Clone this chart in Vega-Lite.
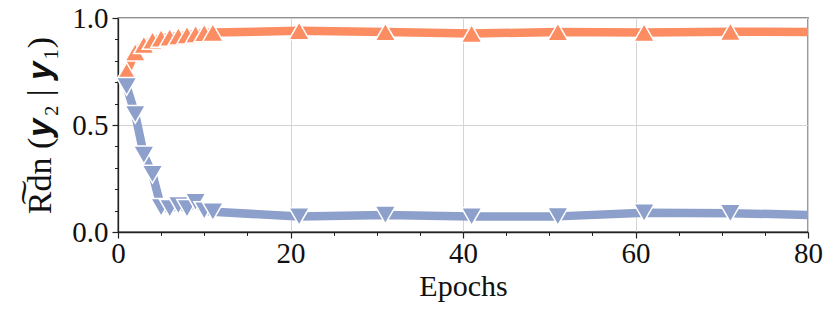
{
  "$schema": "https://vega.github.io/schema/vega-lite/v6.json",
  "autosize": "none",
  "width": 690,
  "height": 214,
  "padding": {"left": 118, "top": 18, "right": 22, "bottom": 77},
  "background": "white",
  "config": {
    "view": {"stroke": "#222", "strokeWidth": 1.3},
    "axis": {"labelFont": "Liberation Serif", "titleFont": "Liberation Serif", "labelColor": "#111", "titleColor": "#111", "titleFontWeight": "normal", "domainColor": "#222", "tickColor": "#222", "labelFlush": false}
  },
  "data": {"values": [
    {"epoch": 1, "value": 0.75, "series": "high"},
    {"epoch": 2, "value": 0.84, "series": "high"},
    {"epoch": 3, "value": 0.875, "series": "high"},
    {"epoch": 4, "value": 0.895, "series": "high"},
    {"epoch": 5, "value": 0.905, "series": "high"},
    {"epoch": 6, "value": 0.91, "series": "high"},
    {"epoch": 7, "value": 0.915, "series": "high"},
    {"epoch": 8, "value": 0.92, "series": "high"},
    {"epoch": 9, "value": 0.925, "series": "high"},
    {"epoch": 10, "value": 0.93, "series": "high"},
    {"epoch": 11, "value": 0.932, "series": "high"},
    {"epoch": 21, "value": 0.94, "series": "high"},
    {"epoch": 31, "value": 0.935, "series": "high"},
    {"epoch": 41, "value": 0.927, "series": "high"},
    {"epoch": 51, "value": 0.935, "series": "high"},
    {"epoch": 61, "value": 0.932, "series": "high"},
    {"epoch": 71, "value": 0.936, "series": "high"},
    {"epoch": 80, "value": 0.935, "series": "high"},
    {"epoch": 1, "value": 0.68, "series": "low"},
    {"epoch": 2, "value": 0.55, "series": "low"},
    {"epoch": 3, "value": 0.36, "series": "low"},
    {"epoch": 4, "value": 0.27, "series": "low"},
    {"epoch": 5, "value": 0.115, "series": "low"},
    {"epoch": 6, "value": 0.11, "series": "low"},
    {"epoch": 7, "value": 0.125, "series": "low"},
    {"epoch": 8, "value": 0.11, "series": "low"},
    {"epoch": 9, "value": 0.14, "series": "low"},
    {"epoch": 10, "value": 0.1, "series": "low"},
    {"epoch": 11, "value": 0.095, "series": "low"},
    {"epoch": 21, "value": 0.072, "series": "low"},
    {"epoch": 31, "value": 0.08, "series": "low"},
    {"epoch": 41, "value": 0.072, "series": "low"},
    {"epoch": 51, "value": 0.073, "series": "low"},
    {"epoch": 61, "value": 0.09, "series": "low"},
    {"epoch": 71, "value": 0.088, "series": "low"},
    {"epoch": 80, "value": 0.08, "series": "low"}
  ]},
  "resolve": {"axis": {"x": "independent", "y": "independent"}},
  "layer": [
    {
      "mark": {"type": "point", "opacity": 0},
      "encoding": {
        "x": {"field": "epoch", "type": "quantitative", "scale": {"domain": [0, 80], "nice": false, "zero": false},
              "axis": {"orient": "bottom", "values": [5,10,15,25,30,35,45,50,55,65,70,75], "labels": false, "grid": false, "domain": false, "tickSize": 3.5, "tickWidth": 1, "title": null}},
        "y": {"field": "value", "type": "quantitative", "scale": {"domain": [0, 1], "nice": false},
              "axis": {"orient": "left", "values": [0.1,0.2,0.3,0.4,0.6,0.7,0.8,0.9], "labels": false, "grid": false, "domain": false, "tickSize": 3.5, "tickWidth": 1, "title": null}}
      }
    },
    {
      "mark": {"type": "line", "strokeWidth": 8.5, "strokeJoin": "round"},
      "encoding": {
        "x": {"field": "epoch", "type": "quantitative", "scale": {"domain": [0, 80], "nice": false, "zero": false},
              "axis": {"orient": "bottom", "values": [0, 20, 40, 60, 80], "grid": true, "gridColor": "#d4d4d4", "gridWidth": 1, "tickSize": 6, "tickWidth": 1.2, "labelFontSize": 29, "labelPadding": 1, "title": "Epochs", "titleFontSize": 30, "titlePadding": 3, "domainWidth": 1.3}},
        "y": {"field": "value", "type": "quantitative", "scale": {"domain": [0, 1], "nice": false},
              "axis": {"orient": "left", "values": [0, 0.5, 1], "format": ".1f", "grid": true, "gridColor": "#d4d4d4", "gridWidth": 1, "tickSize": 6, "tickWidth": 1.2, "labelFontSize": 29, "labelPadding": 4, "title": "R͠dn (𝒚₂ | 𝒚₁)", "titleFontSize": 34, "titlePadding": 14, "domainWidth": 1.3}},
        "color": {"field": "series", "type": "nominal", "scale": {"domain": ["high", "low"], "range": ["#FC8D62", "#8DA0CB"]}, "legend": null}
      }
    },
    {
      "transform": [{"filter": "datum.epoch < 80"}],
      "mark": {"type": "point", "filled": true, "size": 420, "stroke": "white", "strokeWidth": 1.5, "opacity": 1},
      "encoding": {
        "x": {"field": "epoch", "type": "quantitative", "axis": null},
        "y": {"field": "value", "type": "quantitative", "axis": null},
        "color": {"field": "series", "type": "nominal", "scale": {"domain": ["high", "low"], "range": ["#FC8D62", "#8DA0CB"]}, "legend": null},
        "shape": {"field": "series", "type": "nominal", "scale": {"domain": ["high", "low"], "range": ["triangle-up", "triangle-down"]}, "legend": null}
      }
    }
  ]
}
